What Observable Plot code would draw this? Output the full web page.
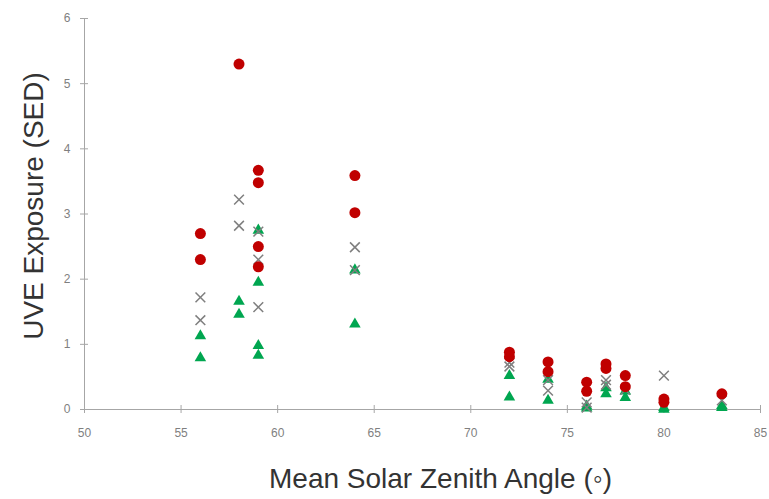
<!DOCTYPE html>
<html>
<head>
<meta charset="utf-8">
<script src="https://cdn.jsdelivr.net/npm/d3@7"></script>
<script src="https://cdn.jsdelivr.net/npm/@observablehq/plot@0.6"></script>
<style>
  html, body { margin: 0; padding: 0; background: #fff; }
  #chart { width: 769px; height: 499px; }
</style>
</head>
<body>
<div id="chart"></div>
<script>
// Tick values
const xTicks = [50, 55, 60, 65, 70, 75, 80, 85];
const yTicks = [0, 1, 2, 3, 4, 5, 6];

// Red circles
const redAngle = [56, 56, 58, 59, 59, 59, 59, 64, 64, 72, 72, 74, 74, 76, 76, 77, 77, 78, 78, 80, 80, 83];
const redValue = [2.70, 2.30, 5.30, 3.67, 3.48, 2.50, 2.19, 3.59, 3.02, 0.88, 0.81, 0.73, 0.58, 0.42, 0.28, 0.70, 0.63, 0.52, 0.35, 0.16, 0.11, 0.24];

// Grey crosses
const greyAngle = [56, 56, 58, 58, 59, 59, 59, 64, 64, 72, 72, 74, 74, 76, 76, 77, 77, 78, 80, 83];
const greyValue = [1.72, 1.37, 3.22, 2.82, 2.73, 2.30, 1.57, 2.49, 2.14, 0.66, 0.72, 0.45, 0.29, 0.11, 0.03, 0.45, 0.38, 0.30, 0.52, 0.14];

// Green triangles
const greenAngle = [56, 56, 58, 58, 59, 59, 59, 59, 64, 64, 72, 72, 74, 74, 76, 76, 77, 77, 78, 78, 80, 80, 83, 83];
const greenValue = [1.13, 0.79, 1.66, 1.46, 2.75, 1.95, 0.98, 0.83, 2.14, 1.31, 0.52, 0.19, 0.46, 0.14, 0.05, 0.02, 0.33, 0.24, 0.28, 0.18, 0.03, 0.00, 0.06, 0.03];

const toRows = (xs, ys) => xs.map((x, i) => ({angle: x, value: ys[i]}));
const red = toRows(redAngle, redValue);
const grey = toRows(greyAngle, greyValue);
const green = toRows(greenAngle, greenValue);

const axisColor = "#a6a6a6";
const tickText = "#7f7f7f";

const chart = Plot.plot({
  width: 769,
  height: 499,
  marginLeft: 84,
  marginRight: 9,
  marginTop: 18,
  marginBottom: 90,
  style: {fontFamily: "'Liberation Sans', Arial, sans-serif", background: "#fff"},
  x: {domain: [50, 85]},
  y: {domain: [0, 6]},
  marks: [
    Plot.ruleX([50], {stroke: axisColor}),
    Plot.ruleY([0], {stroke: axisColor}),
    Plot.axisY({ticks: yTicks, tickFormat: d3.format("d"), tickSize: 4, tickPadding: 10, stroke: axisColor, fill: tickText, fontSize: 12, label: null}),
    Plot.axisY({ticks: yTicks, tickSize: 4, dx: 4, tickFormat: () => "", stroke: axisColor, label: null}),
    Plot.axisX({ticks: xTicks, tickFormat: d3.format("d"), tickSize: 4, tickPadding: 15, stroke: axisColor, fill: tickText, fontSize: 12, label: null}),
    Plot.axisX({ticks: xTicks, tickSize: 4, dy: -4, tickFormat: () => "", stroke: axisColor, label: null}),
    Plot.dot(green, {x: "angle", y: "value", symbol: "triangle", r: 4.3, fill: "#00a650", stroke: "none"}),
    Plot.dot(grey, {x: "angle", y: "value", symbol: "times", r: 4.5, stroke: "#7f7f7f", strokeWidth: 1.5, fill: "none"}),
    Plot.dot(red, {x: "angle", y: "value", symbol: "circle", r: 5.5, fill: "#c00000", stroke: "none"}),
    Plot.text(["UVE Exposure (SED)"], {frameAnchor: "left", textAnchor: "middle", rotate: -90, dx: -50, dy: -8, fontSize: 28, fill: "#333"}),
    Plot.text(["Mean Solar Zenith Angle (\u25E6)"], {frameAnchor: "bottom", textAnchor: "middle", dy: 78, dx: 18, fontSize: 28, fill: "#333"})
  ]
});
document.getElementById("chart").appendChild(chart);
</script>
</body>
</html>
